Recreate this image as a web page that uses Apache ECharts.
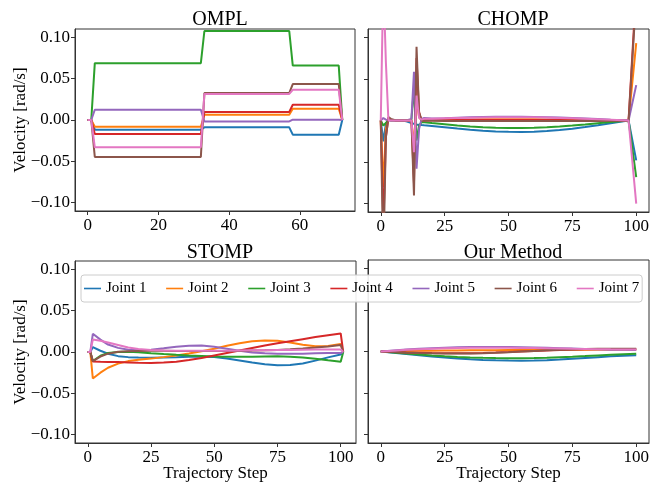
<!DOCTYPE html>
<html>
<head>
<meta charset="utf-8">
<script src="https://cdn.jsdelivr.net/npm/echarts@6/dist/echarts.min.js"></script>
<style>
  html, body { margin: 0; padding: 0; background: #fff; }
  #chart { width: 654px; height: 483px; }
</style>
</head>
<body>
<div id="chart"></div>
<script>
// joint names + matplotlib tab10 colours
const jointNames = ["Joint 1", "Joint 2", "Joint 3", "Joint 4", "Joint 5", "Joint 6", "Joint 7"];
const colors = ["#1f77b4", "#ff7f0e", "#2ca02c", "#d62728", "#9467bd", "#8c564b", "#e377c2"];
const titles = ["OMPL", "CHOMP", "STOMP", "Our Method"];
const yTicks = [-0.1, -0.05, 0, 0.05, 0.1];
const xTicksOmpl = [0, 20, 40, 60];
const xTicks = [0, 25, 50, 75, 100];

// OMPL (piecewise constant, breakpoints only)
const omplSteps = [0, 1, 2, 32, 33, 57, 58, 71, 72];
const omplJ1 = [0, 0, -0.0117, -0.0117, -0.0089, -0.0089, -0.0177, -0.0177, 0];
const omplJ2 = [0, 0, -0.0081, -0.0081, 0.0064, 0.0064, 0.0136, 0.0136, 0];
const omplJ3 = [0, 0, 0.0687, 0.0687, 0.1076, 0.1076, 0.0658, 0.0658, 0];
const omplJ4 = [0, 0, -0.0169, -0.0169, 0.0096, 0.0096, 0.0184, 0.0184, 0];
const omplJ5 = [0, 0, 0.0124, 0.0124, -0.0017, -0.0017, 0.0004, 0.0004, 0];
const omplJ6 = [0, 0, -0.0446, -0.0446, 0.0325, 0.0325, 0.0434, 0.0434, 0];
const omplJ7 = [0, 0, -0.033, -0.033, 0.0315, 0.0315, 0.0365, 0.0365, 0];

// CHOMP
const chompSteps = [0, 1, 2, 3, 4, 6, 8, 10, 12, 13, 14, 15, 16, 17, 20, 25, 30, 35, 40, 45, 50, 55, 60, 65, 70, 75, 80, 85, 90, 95, 97, 100];
const chompJ1 = [0, -0.025, -0.004, 0.001, 0, 0, 0, -0.001, -0.003, -0.004, -0.005, -0.005, -0.0055, -0.0058, -0.0065, -0.008, -0.0097, -0.0112, -0.0124, -0.0132, -0.0136, -0.0137, -0.0134, -0.0126, -0.0114, -0.0098, -0.0078, -0.0056, -0.0032, -0.001, 0, -0.048];
const chompJ2 = [0, -0.08, -0.01, 0.002, 0, 0, 0, 0, 0, -0.03, 0.024, 0.004, 0, 0.0003, 0.0005, 0.0008, 0.001, 0.0012, 0.0014, 0.0015, 0.0015, 0.0015, 0.0014, 0.0013, 0.0011, 0.0009, 0.0007, 0.0005, 0.0003, 0.0001, 0, 0.093];
const chompJ3 = [0, -0.006, -0.003, 0.001, 0, 0, 0, 0, 0.001, 0.04, -0.024, -0.006, -0.002, -0.002, -0.003, -0.0045, -0.006, -0.0072, -0.0081, -0.0087, -0.0089, -0.0089, -0.0086, -0.008, -0.0071, -0.006, -0.0047, -0.0033, -0.0019, -0.0006, 0, -0.068];
const chompJ4 = [0, -0.13, -0.02, 0.003, 0.001, 0, 0, 0, 0, -0.075, 0.075, 0.01, 0, 0, 0.0003, 0.0004, 0.0005, 0.0005, 0.0005, 0.0005, 0.0005, 0.0005, 0.0005, 0.0005, 0.0005, 0.0004, 0.0004, 0.0003, 0.0002, 0.0001, 0, 0.16];
const chompJ5 = [0, 0.003, 0.001, 0, 0, 0, 0, 0, 0.002, 0.0586, -0.058, -0.01, 0.002, 0.003, 0.0025, 0.0028, 0.0033, 0.0038, 0.0042, 0.0044, 0.0045, 0.0045, 0.0043, 0.004, 0.0035, 0.003, 0.0024, 0.0017, 0.001, 0.0004, 0, 0.0425];
const chompJ6 = [0, -0.17, -0.02, 0.004, 0.002, 0, 0, 0, 0, -0.09, 0.0887, 0.01, 0, -0.0003, -0.0004, -0.0005, -0.0005, -0.0005, -0.0005, -0.0005, -0.0005, -0.0005, -0.0005, -0.0005, -0.0005, -0.0005, -0.0005, -0.0005, -0.0004, -0.0003, -0.001, 0.15];
const chompJ7 = [0, 0.17, 0.07, 0, 0, 0, 0, 0, 0, -0.038, 0.03, 0.003, 0.001, 0.002, 0.0022, 0.0026, 0.003, 0.0034, 0.0037, 0.0039, 0.004, 0.004, 0.0038, 0.0035, 0.0031, 0.0027, 0.0022, 0.0016, 0.001, 0.0004, 0, -0.1];

// STOMP
const stompSteps = [0, 1, 2, 5, 8, 12, 16, 20, 25, 30, 35, 40, 45, 50, 55, 60, 65, 70, 75, 80, 85, 90, 95, 100, 101];
const stompJ1 = [0, 0, 0.006, 0.0015, -0.002, -0.005, -0.0062, -0.0067, -0.0068, -0.0065, -0.0062, -0.0058, -0.0056, -0.006, -0.0078, -0.0102, -0.0128, -0.0148, -0.016, -0.0158, -0.0138, -0.0104, -0.0065, -0.003, 0];
const stompJ2 = [0, 0, -0.032, -0.025, -0.019, -0.014, -0.011, -0.0095, -0.008, -0.0062, -0.0042, -0.0018, 0.001, 0.004, 0.0075, 0.0105, 0.013, 0.014, 0.0135, 0.0115, 0.0088, 0.007, 0.0072, 0.0098, 0];
const stompJ3 = [0, 0, -0.011, -0.0045, -0.0012, 0, 0.0002, -0.0004, -0.0015, -0.0025, -0.0034, -0.0042, -0.0048, -0.0054, -0.0057, -0.0058, -0.0056, -0.0053, -0.0052, -0.0056, -0.0066, -0.0082, -0.0101, -0.0118, 0];
const stompJ4 = [0, 0, -0.0115, -0.0118, -0.012, -0.0122, -0.0126, -0.013, -0.0132, -0.0128, -0.0118, -0.0098, -0.0072, -0.0042, -0.0012, 0.0018, 0.0048, 0.0078, 0.0105, 0.013, 0.0155, 0.018, 0.0203, 0.0225, 0];
const stompJ5 = [0, 0, 0.022, 0.015, 0.009, 0.005, 0.0028, 0.002, 0.0028, 0.0045, 0.0064, 0.0076, 0.0078, 0.0064, 0.004, 0.0014, -0.0005, -0.0016, -0.002, -0.0022, -0.002, -0.0016, -0.0012, -0.0012, 0];
const stompJ6 = [0, 0, -0.011, -0.0055, -0.002, 0.0004, 0.001, 0.0012, 0.0014, 0.0014, 0.0013, 0.0012, 0.0011, 0.0011, 0.0012, 0.0014, 0.0017, 0.002, 0.0025, 0.0032, 0.0042, 0.0053, 0.0066, 0.0085, 0];
const stompJ7 = [0, 0, 0.015, 0.0135, 0.0115, 0.0085, 0.0055, 0.0035, 0.0024, 0.0018, 0.0015, 0.0014, 0.0014, 0.0015, 0.0016, 0.0018, 0.002, 0.0021, 0.0023, 0.0025, 0.0027, 0.0029, 0.003, 0.003, 0];

// Our Method
const oursSteps = [0, 5, 10, 15, 20, 25, 30, 35, 40, 45, 50, 55, 60, 65, 70, 75, 80, 85, 90, 95, 100];
const oursJ1 = [0, -0.0015, -0.003, -0.0045, -0.006, -0.0072, -0.0084, -0.0094, -0.0101, -0.0106, -0.0109, -0.011, -0.0108, -0.0104, -0.0097, -0.0088, -0.0078, -0.0068, -0.0058, -0.005, -0.0045];
const oursJ2 = [0, 0.0003, 0.0006, 0.0008, 0.001, 0.0012, 0.0013, 0.0014, 0.0015, 0.0016, 0.0017, 0.0018, 0.0019, 0.002, 0.002, 0.0021, 0.0021, 0.0021, 0.0021, 0.0021, 0.002];
const oursJ3 = [0, -0.0012, -0.0024, -0.0036, -0.0047, -0.0057, -0.0065, -0.0071, -0.0076, -0.0079, -0.008, -0.008, -0.0078, -0.0074, -0.0068, -0.0062, -0.0055, -0.0047, -0.004, -0.0033, -0.0028];
const oursJ4 = [0, -0.0006, -0.0011, -0.0015, -0.0019, -0.0021, -0.0022, -0.0021, -0.0018, -0.0013, -0.0007, 0, 0.0007, 0.0013, 0.0019, 0.0023, 0.0027, 0.0029, 0.003, 0.003, 0.003];
const oursJ5 = [0, 0.0012, 0.0023, 0.0032, 0.004, 0.0046, 0.005, 0.0053, 0.0054, 0.0055, 0.0054, 0.0052, 0.0049, 0.0045, 0.004, 0.0035, 0.003, 0.0026, 0.0022, 0.002, 0.0019];
const oursJ6 = [0, -0.0007, -0.0013, -0.0018, -0.0022, -0.0024, -0.0025, -0.0024, -0.0021, -0.0016, -0.0009, -0.0001, 0.0007, 0.0014, 0.002, 0.0025, 0.0029, 0.0032, 0.0033, 0.0034, 0.0034];
const oursJ7 = [0, 0.001, 0.002, 0.0028, 0.0034, 0.0039, 0.0042, 0.0044, 0.0045, 0.0045, 0.0044, 0.0043, 0.0041, 0.0038, 0.0035, 0.0032, 0.003, 0.0028, 0.0026, 0.0025, 0.0025];

const panels = [
  { steps: omplSteps, joints: [omplJ1, omplJ2, omplJ3, omplJ4, omplJ5, omplJ6, omplJ7], xMin: -3.6, xMax: 75.6, xt: xTicksOmpl },
  { steps: chompSteps, joints: [chompJ1, chompJ2, chompJ3, chompJ4, chompJ5, chompJ6, chompJ7], xMin: -5, xMax: 105, xt: xTicks },
  { steps: stompSteps, joints: [stompJ1, stompJ2, stompJ3, stompJ4, stompJ5, stompJ6, stompJ7], xMin: -5.05, xMax: 106.05, xt: xTicks },
  { steps: oursSteps, joints: [oursJ1, oursJ2, oursJ3, oursJ4, oursJ5, oursJ6, oursJ7], xMin: -5, xMax: 105, xt: xTicks }
];

const font = "'Liberation Serif', 'DejaVu Serif', serif";
const gridBoxes = [
  { left: 75, top: 29, width: 280, height: 182 },
  { left: 368, top: 29, width: 281, height: 183 },
  { left: 75, top: 261, width: 281, height: 182 },
  { left: 368, top: 260, width: 281, height: 183 }
];
const titleCenters = [[215, 5], [508, 5], [215, 238], [508, 238]];

const fmt = (v) => v.toFixed(2).replace("-", "\u2212");

const grid = gridBoxes.map((g) => ({
  ...g, show: true, borderColor: "#333", borderWidth: 1, backgroundColor: "transparent", outerBoundsMode: "none"
}));

const xAxis = panels.map((p, i) => ({
  type: "value", gridIndex: i, min: p.xMin, max: p.xMax,
  name: i >= 2 ? "Trajectory Step" : "", nameLocation: "middle", nameGap: 22, nameMoveOverlap: false,
  nameTextStyle: { fontFamily: font, fontSize: 17, color: "#000" },
  axisLine: { show: true, onZero: false, lineStyle: { color: "#333", width: 1 } },
  splitLine: { show: false },
  axisTick: { show: true, length: 4, lineStyle: { color: "#333" }, customValues: p.xt },
  axisLabel: { customValues: p.xt, margin: 6, fontFamily: font, fontSize: 17, color: "#000" }
}));

const yAxis = panels.map((p, i) => ({
  type: "value", gridIndex: i, min: -0.11, max: 0.11,
  name: i % 2 === 0 ? "Velocity [rad/s]" : "", nameLocation: "middle", nameGap: 46, nameMoveOverlap: false,
  nameTextStyle: { fontFamily: font, fontSize: 17, color: "#000" },
  axisLine: { show: true, onZero: false, lineStyle: { color: "#333", width: 1 } },
  splitLine: { show: false },
  axisTick: { show: true, length: 4, lineStyle: { color: "#333" }, customValues: yTicks },
  axisLabel: { show: i % 2 === 0, customValues: yTicks, formatter: fmt, margin: 5, fontFamily: font, fontSize: 17, color: "#000" }
}));

const series = [];
panels.forEach((p, i) => {
  p.joints.forEach((vals, j) => {
    series.push({
      type: "line", name: jointNames[j], xAxisIndex: i, yAxisIndex: i,
      data: p.steps.map((s, k) => [s, vals[k]]),
      symbol: "none", clip: true, color: colors[j],
      lineStyle: { width: 2, color: colors[j] }
    });
  });
});

const chart = echarts.init(document.getElementById("chart"), null, { renderer: "canvas" });
chart.setOption({
  animation: false,
  backgroundColor: "#fff",
  title: titles.map((t, i) => ({
    text: t, left: titleCenters[i][0], top: titleCenters[i][1], textAlign: "center",
    textStyle: { fontFamily: font, fontSize: 20, fontWeight: "normal", color: "#000" }
  })),
  legend: {
    data: jointNames, left: 81, top: 275, orient: "horizontal", icon: "rect",
    itemWidth: 17, itemHeight: 1.6, itemGap: 19.7, padding: [6, 3],
    backgroundColor: "rgba(255,255,255,0.9)", borderColor: "#ccc", borderWidth: 1, borderRadius: 3,
    textStyle: { fontFamily: font, fontSize: 15, color: "#000" }
  },
  grid, xAxis, yAxis, series
});
</script>
</body>
</html>
